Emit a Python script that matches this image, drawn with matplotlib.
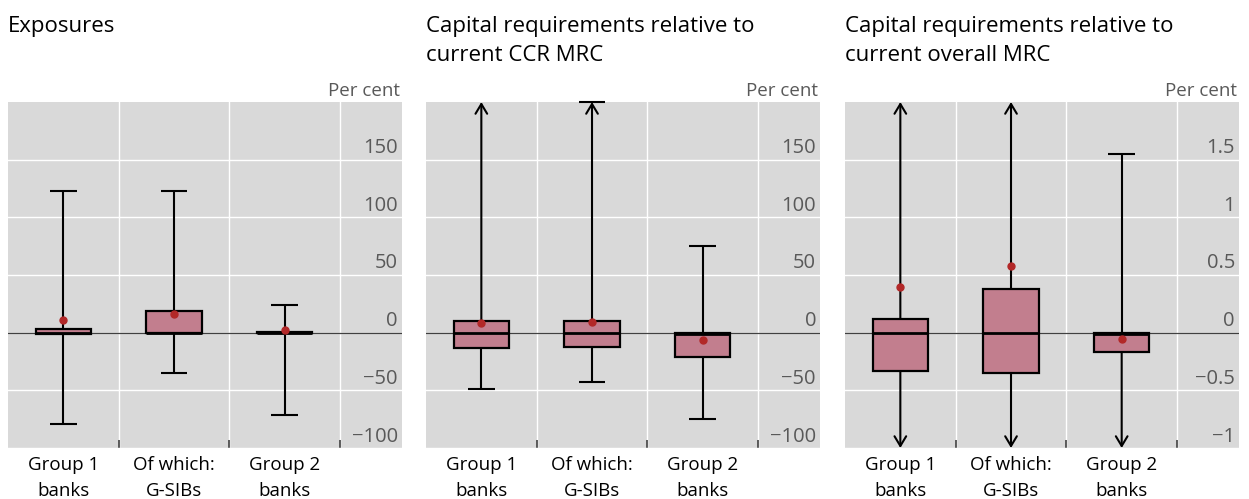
import numpy as np
import matplotlib.pyplot as plt
from matplotlib.transforms import blended_transform_factory, offset_copy

plt.rcParams['font.family'] = ['Open Sans', 'DejaVu Sans']

groups = ['Group 1\nbanks', 'Of which:\nG-SIBs', 'Group 2\nbanks']
titles = ['Exposures',
          'Capital requirements relative to\ncurrent CCR MRC',
          'Capital requirements relative to\ncurrent overall MRC']

# box stats (inf = whisker runs off the scale)
exp_lo = [-79, -35, -71]
exp_q1 = [-1, 0, -0.5]
exp_med = [0, 0, 0]
exp_q3 = [3.5, 19, 0.5]
exp_hi = [123, 123, 24]
exp_mean = [11, 16.5, 2]

ccr_lo = [-49, -43, -75]
ccr_q1 = [-13, -12.5, -21]
ccr_med = [0, 0, -1]
ccr_q3 = [10, 10, 0]
ccr_hi = [np.inf, 200, 75]
ccr_mean = [8, 9.5, -6]

mrc_lo = [-np.inf, -np.inf, -np.inf]
mrc_q1 = [-0.33, -0.35, -0.17]
mrc_med = [0, 0, -0.01]
mrc_q3 = [0.12, 0.38, 0]
mrc_hi = [np.inf, np.inf, 1.55]
mrc_mean = [0.40, 0.58, -0.055]

ylims = [(-100, 200), (-100, 200), (-1, 2)]
yticks = [[-100, -50, 0, 50, 100, 150],
          [-100, -50, 0, 50, 100, 150],
          [-1, -0.5, 0, 0.5, 1, 1.5]]
yticklabels = [['\u2212100', '\u221250', '0', '50', '100', '150'],
               ['\u2212100', '\u221250', '0', '50', '100', '150'],
               ['\u22121', '\u22120.5', '0', '0.5', '1', '1.5']]

panels = [
    (exp_lo, exp_q1, exp_med, exp_q3, exp_hi, exp_mean),
    (ccr_lo, ccr_q1, ccr_med, ccr_q3, ccr_hi, ccr_mean),
    (mrc_lo, mrc_q1, mrc_med, mrc_q3, mrc_hi, mrc_mean),
]

BG = '#d9d9d9'
BOX = '#c27e8e'
DOT = '#b22828'
TXT = '#595959'

fig = plt.figure(figsize=(12.49, 4.99), dpi=100)
lefts = [8, 426, 845]
W, H = 1249, 499
arrow = dict(arrowstyle='->,head_length=0.5,head_width=0.3', lw=1.5,
             color='black', mutation_scale=14, shrinkA=0, shrinkB=0)

for i, (lo, q1, med, q3, hi, mean) in enumerate(panels):
    ax = fig.add_axes([lefts[i] / W, (H - 448) / H, 394 / W, 346 / H])
    ax.set_facecolor(BG)
    for s in ax.spines.values():
        s.set_visible(False)
    ymin, ymax = ylims[i]
    ax.set_ylim(ymin, ymax)
    ax.set_xlim(0, 3.56)

    ax.set_yticks(yticks[i])
    ax.set_xticks([1, 2, 3])
    ax.set_xticklabels([])
    ax.set_xticks([0.5, 1.5, 2.5], groups, minor=True)
    ax.tick_params(axis='y', length=0, labelleft=False)
    ax.tick_params(axis='x', which='major', direction='in', length=6, width=1.2, color='#404040')
    ax.tick_params(axis='x', which='minor', length=0, pad=6, labelsize=13.5)
    for lab in ax.get_xticklabels(minor=True):
        lab.set_linespacing(1.55)
    ax.grid(True, which='major', color='white', lw=1)
    ax.set_axisbelow(True)
    ax.axhline(0, color='#404040', lw=0.9, zorder=1.5)

    # y labels sit inside the plot, just above their gridlines
    tr = offset_copy(blended_transform_factory(ax.transAxes, ax.transData), fig=fig, x=-4, y=6.5, units='dots')
    for v, t in zip(yticks[i], yticklabels[i]):
        ax.text(1, v, t, transform=tr, ha='right', va='baseline', fontsize=14.5, color=TXT)
    ax.text(1 - 2 / 394, 1 + 6 / 346, 'Per cent', transform=ax.transAxes,
            ha='right', va='baseline', fontsize=13.5, color=TXT)

    x = np.arange(3) + 0.5
    for j in range(3):
        top = min(hi[j], ymax)
        bot = max(lo[j], ymin)
        if hi[j] >= ymax:
            ax.annotate('', xy=(x[j], ymax), xytext=(x[j], q3[j]),
                        arrowprops=arrow, annotation_clip=False)
        else:
            ax.vlines(x[j], q3[j], top, color='black', lw=1.5, zorder=2)
        if lo[j] <= ymin:
            ax.annotate('', xy=(x[j], ymin), xytext=(x[j], q1[j]),
                        arrowprops=arrow, annotation_clip=False)
        else:
            ax.vlines(x[j], bot, q1[j], color='black', lw=1.5, zorder=2)
        if np.isfinite(hi[j]):
            ax.hlines(top, x[j] - 0.12, x[j] + 0.12, color='black', lw=1.5, zorder=2, clip_on=False)
        if np.isfinite(lo[j]):
            ax.hlines(bot, x[j] - 0.12, x[j] + 0.12, color='black', lw=1.5, zorder=2, clip_on=False)

    ax.bar(x, np.array(q3) - np.array(q1), bottom=q1, width=0.5, color=BOX,
           edgecolor='black', lw=1.6, zorder=3)
    ax.hlines(med, x - 0.25, x + 0.25, color='black', lw=2, zorder=4)
    ax.plot(x, mean, 'o', color=DOT, ms=5, zorder=5)

    fig.text(lefts[i] / W, 1 - 16 / H, titles[i], ha='left', va='top',
             fontsize=16, linespacing=1.5)

fig.savefig('out.png', dpi=100)
